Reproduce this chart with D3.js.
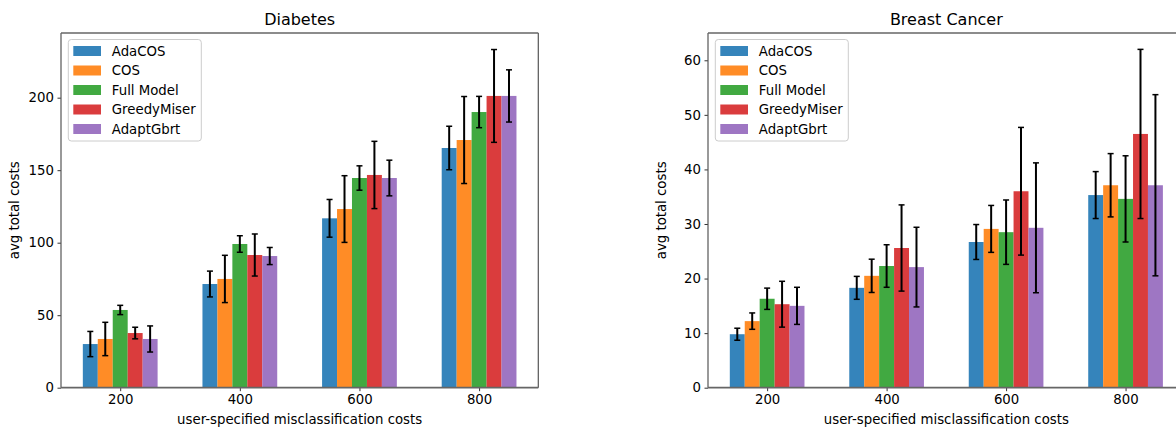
<!DOCTYPE html>
<html>
<head>
<meta charset="utf-8">
<script src="https://cdn.jsdelivr.net/npm/d3@7"></script>
<style>
  body { margin: 0; background: #fff; overflow: hidden; }
  svg { display: block; font-family: "DejaVu Sans", sans-serif; }
</style>
</head>
<body>
<script>
// categories and series
const costs = [200, 400, 600, 800];
const methods = ["AdaCOS", "COS", "Full Model", "GreedyMiser", "AdaptGbrt"];
const colors = ["#1f77b4", "#ff7f0e", "#2ca02c", "#d62728", "#9467bd"];

// Diabetes: mean and std per method, one value per cost
const diabetesMean = [
  [30.1, 71.5, 116.8, 165.3],
  [33.6, 75.0, 123.2, 170.8],
  [53.6, 99.1, 144.6, 190.1],
  [37.7, 91.5, 146.7, 201.2],
  [33.6, 90.8, 144.6, 201.2]
];
const diabetesErr = [
  [8.7, 8.9, 13.0, 15.0],
  [11.5, 16.3, 23.0, 30.0],
  [3.2, 5.7, 8.4, 10.8],
  [4.0, 14.5, 23.2, 32.0],
  [9.0, 5.9, 12.3, 18.0]
];

// Breast Cancer
const cancerMean = [
  [9.8, 18.3, 26.7, 35.3],
  [12.2, 20.5, 29.1, 37.1],
  [16.3, 22.3, 28.5, 34.6],
  [15.3, 25.6, 36.0, 46.5],
  [15.0, 22.1, 29.3, 37.1]
];
const cancerErr = [
  [1.1, 2.1, 3.2, 4.3],
  [1.5, 3.05, 4.3, 5.8],
  [1.95, 3.9, 5.9, 7.9],
  [4.2, 7.9, 11.7, 15.5],
  [3.4, 7.3, 11.9, 16.6]
];

const yTicksDiabetes = [0, 50, 100, 150, 200];
const yTicksCancer = [0, 10, 20, 30, 40, 50, 60];

const W = 1176, H = 428;
const svg = d3.select("body").append("svg")
    .attr("width", W)
    .attr("height", H);

const barUnits = 25;

function drawPanel(opts) {
  const {left, right, top, bottom, title, means, errs, yMax, yTicks} = opts;
  const g = svg.append("g");

  const x = d3.scaleLinear().domain([101, 899]).range([left, right]);
  const y = d3.scaleLinear().domain([0, yMax]).range([bottom, top]);

  // bars
  methods.forEach((m, i) => {
    const rows = costs.map((c, j) => ({c, v: means[i][j], e: errs[i][j]}));
    g.append("g")
      .selectAll("rect")
      .data(rows)
      .join("rect")
        .attr("x", d => x(d.c + (i - 2.5) * barUnits))
        .attr("width", x(barUnits) - x(0))
        .attr("y", d => y(d.v))
        .attr("height", d => y(0) - y(d.v))
        .attr("fill", colors[i])
        .attr("fill-opacity", 0.9);

    const eb = g.append("g").attr("stroke", "#000");
    eb.selectAll("line.v")
      .data(rows)
      .join("line")
        .attr("class", "v")
        .attr("x1", d => x(d.c + (i - 2) * barUnits))
        .attr("x2", d => x(d.c + (i - 2) * barUnits))
        .attr("y1", d => y(d.v + d.e))
        .attr("y2", d => y(d.v - d.e))
        .attr("stroke-width", 2);
    ["top", "bot"].forEach(k => {
      eb.selectAll("line." + k)
        .data(rows)
        .join("line")
          .attr("class", k)
          .attr("x1", d => x(d.c + (i - 2) * barUnits) - 3)
          .attr("x2", d => x(d.c + (i - 2) * barUnits) + 3)
          .attr("y1", d => y(k === "top" ? d.v + d.e : d.v - d.e))
          .attr("y2", d => y(k === "top" ? d.v + d.e : d.v - d.e))
          .attr("stroke-width", 1.5);
    });
  });

  // axes
  const yAxis = g.append("g")
    .attr("transform", `translate(${left},0)`)
    .call(d3.axisLeft(y).tickValues(yTicks).tickSize(3.5).tickPadding(3.5));
  const xAxis = g.append("g")
    .attr("transform", `translate(0,${bottom})`)
    .call(d3.axisBottom(x).tickValues(costs).tickSize(3.5).tickPadding(3.5));
  [yAxis, xAxis].forEach(a => {
    a.select(".domain").remove();
    a.selectAll("text").attr("font-size", "13.3px").attr("fill", "#000")
      .attr("font-family", "DejaVu Sans, sans-serif");
    a.selectAll("line").attr("stroke", "#333");
  });

  // spines
  g.append("line").attr("x1", left).attr("x2", left).attr("y1", top).attr("y2", bottom)
    .attr("stroke", "#555").attr("stroke-width", 1.2);
  g.append("line").attr("x1", right).attr("x2", right).attr("y1", top).attr("y2", bottom)
    .attr("stroke", "#555").attr("stroke-width", 1.2);
  g.append("line").attr("x1", left).attr("x2", right).attr("y1", top).attr("y2", top)
    .attr("stroke", "#666").attr("stroke-width", 1.4);
  g.append("line").attr("x1", left).attr("x2", right).attr("y1", bottom).attr("y2", bottom)
    .attr("stroke", "#666").attr("stroke-width", 1.8);

  // labels
  g.append("text")
    .attr("x", (left + right) / 2).attr("y", 25)
    .attr("text-anchor", "middle").attr("font-size", "16px")
    .text(title);
  g.append("text")
    .attr("x", (left + right) / 2).attr("y", 424)
    .attr("text-anchor", "middle").attr("font-size", "13.3px")
    .text("user-specified misclassification costs");
  g.append("text")
    .attr("transform", `translate(${left - 42},${(top + bottom) / 2}) rotate(-90)`)
    .attr("text-anchor", "middle").attr("font-size", "13.3px")
    .text("avg total costs");

  // legend
  const lg = g.append("g").attr("transform", `translate(${left + 7.3},39.5)`);
  lg.append("rect")
    .attr("width", 133).attr("height", 101.5)
    .attr("rx", 3)
    .attr("fill", "#fff").attr("fill-opacity", 0.8)
    .attr("stroke", "#ccc");
  methods.forEach((m, i) => {
    lg.append("rect")
      .attr("x", 5).attr("y", 6.5 + i * 19.5)
      .attr("width", 27.7).attr("height", 10)
      .attr("fill", colors[i]).attr("fill-opacity", 0.9);
    lg.append("text")
      .attr("x", 43.5).attr("y", 16.3 + i * 19.5)
      .attr("font-size", "13.3px")
      .text(m);
  });
}

drawPanel({
  left: 61, right: 538.3, top: 33, bottom: 387.7,
  title: "Diabetes", means: diabetesMean, errs: diabetesErr,
  yMax: 244.6, yTicks: yTicksDiabetes
});

drawPanel({
  left: 708, right: 1184.7, top: 33, bottom: 387.7,
  title: "Breast Cancer", means: cancerMean, errs: cancerErr,
  yMax: 65, yTicks: yTicksCancer
});
</script>
</body>
</html>
